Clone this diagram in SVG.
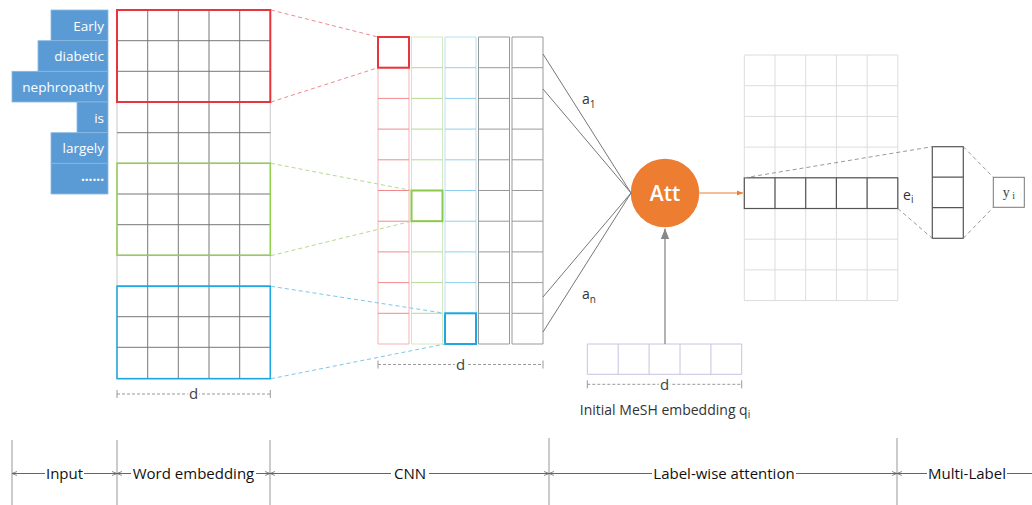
<svg xmlns="http://www.w3.org/2000/svg" width="1032" height="505" viewBox="0 0 1032 505">
<defs>
<style>
text{font-family:"Open Sans","Noto Sans","Liberation Sans",sans-serif;}
.w{fill:#fff;font-size:13.5px;text-anchor:end;}
.wb{fill:#5b9bd5;stroke:#8cb8e2;stroke-width:0.8;}
.g{fill:none;stroke:#777;stroke-width:1;}
.gl{fill:none;stroke:#dcdcdc;stroke-width:1;}
.lbl{font-size:14px;fill:#333;}
.ax{font-size:15px;fill:#111;text-anchor:middle;}
.axl{fill:none;stroke:#666;stroke-width:1;}
.dim{stroke:#999;stroke-width:1;stroke-dasharray:3 2;fill:none;}
.dt{font-size:15px;fill:#444;text-anchor:middle;stroke:#fff;stroke-width:4;paint-order:stroke;}
.tick{stroke:#999;stroke-width:1;}
.dash{fill:none;stroke-width:1;stroke-dasharray:4 3;}
</style>
<marker id="ah" viewBox="0 0 10 10" refX="10" refY="5" markerWidth="7" markerHeight="7" orient="auto-start-reverse">
<path d="M0,1 L10,5 L0,9 z" fill="#888"/>
</marker>
<marker id="aho" viewBox="0 0 10 10" refX="10" refY="5" markerWidth="6" markerHeight="6" orient="auto-start-reverse">
<path d="M0,1 L10,5 L0,9 z" fill="#ed7d31"/>
</marker>
<marker id="axm" viewBox="0 0 10 10" refX="10" refY="5" markerWidth="5" markerHeight="5" orient="auto-start-reverse">
<path d="M0,1 L10,5 L0,9" fill="none" stroke="#666" stroke-width="1.5"/>
</marker>
</defs>

<g id="input">
<rect class="wb" x="51" y="10" width="57" height="30.7"/>
<rect class="wb" x="38" y="40.7" width="70" height="30.7"/>
<rect class="wb" x="12" y="71.3" width="96" height="30.7"/>
<rect class="wb" x="77" y="102" width="31" height="30.7"/>
<rect class="wb" x="51" y="132.7" width="57" height="30.7"/>
<rect class="wb" x="51" y="163.3" width="57" height="30.7"/>
<text class="w" x="104" y="30.5" font-size="14">Early</text>
<text class="w" x="104" y="61">diabetic</text>
<text class="w" x="104" y="91.5">nephropathy</text>
<text class="w" x="104" y="122.5" font-size="14">is</text>
<text class="w" x="104" y="153">largely</text>
<text class="w" x="104" y="181" font-size="12" font-weight="bold">......</text>
</g>

<g id="word-embedding">
<path class="g" d="M147.7,10V378.7M178.3,10V378.7M209,10V378.7M239.7,10V378.7"/>
<path fill="none" stroke="#c8c8c8" d="M117,10V378.7M270.3,10V378.7"/>
<path class="g" d="M117,40.7H270.3M117,71.3H270.3M117,102H270.3M117,132.7H270.3M117,163.3H270.3M117,194H270.3M117,224.7H270.3M117,255.3H270.3M117,286H270.3M117,316.7H270.3M117,347.3H270.3M117,10H270.3M117,378.7H270.3"/>
<rect x="117" y="10" width="153.3" height="92" fill="none" stroke="#e8343c" stroke-width="2"/>
<rect x="117" y="163.3" width="153.3" height="92" fill="none" stroke="#92d050" stroke-width="1.5"/>
<rect x="117" y="286.3" width="153.3" height="92.3" fill="none" stroke="#1ea7e1" stroke-width="1.5"/>
<line class="dim" x1="117" y1="394" x2="270.3" y2="394"/>
<path class="tick" d="M117,390V398M270.3,390V398"/>
<text class="dt" x="193.7" y="399">d</text>
</g>

<g id="cnn">
<path fill="none" stroke="#f6b3b5" d="M378,37h31v307h-31z"/>
<path fill="none" stroke="#f08a8e" d="M378,67.7h31M378,98.4h31M378,129.1h31M378,159.8h31M378,190.5h31M378,221.2h31M378,251.9h31M378,282.6h31M378,313.3h31"/>
<path fill="none" stroke="#d3e8bf" d="M411.5,37h31v307h-31z"/>
<path fill="none" stroke="#b5d98f" d="M411.5,67.7h31M411.5,98.4h31M411.5,129.1h31M411.5,159.8h31M411.5,190.5h31M411.5,221.2h31M411.5,251.9h31M411.5,282.6h31M411.5,313.3h31"/>
<path fill="none" stroke="#b7e0f3" d="M445,37h31v307h-31z"/>
<path fill="none" stroke="#8fd0ee" d="M445,67.7h31M445,98.4h31M445,129.1h31M445,159.8h31M445,190.5h31M445,221.2h31M445,251.9h31M445,282.6h31M445,313.3h31"/>
<path fill="none" stroke="#999" d="M478.5,37h31v307h-31zM478.5,67.7h31M478.5,98.4h31M478.5,129.1h31M478.5,159.8h31M478.5,190.5h31M478.5,221.2h31M478.5,251.9h31M478.5,282.6h31M478.5,313.3h31"/>
<path fill="none" stroke="#999" d="M512,37h31v307h-31zM512,67.7h31M512,98.4h31M512,129.1h31M512,159.8h31M512,190.5h31M512,221.2h31M512,251.9h31M512,282.6h31M512,313.3h31"/>
<rect x="378" y="37" width="31" height="30.7" fill="none" stroke="#e8343c" stroke-width="2"/>
<rect x="411.5" y="190.5" width="31" height="30.7" fill="none" stroke="#8cc84b" stroke-width="2"/>
<rect x="445" y="313.3" width="31" height="30.7" fill="none" stroke="#1ea7e1" stroke-width="2"/>
<line class="dim" x1="378" y1="364.5" x2="543" y2="364.5"/>
<path class="tick" d="M378,360.5V368.5M543,360.5V368.5"/>
<text class="dt" x="460.5" y="370">d</text>
</g>

<g id="att">
<circle cx="665" cy="193" r="34.3" fill="#ed7d31"/>
<text x="665" y="200.5" fill="#fff" font-size="21" font-weight="600" text-anchor="middle">Att</text>
</g>

<g id="label-matrix">
<path class="gl" d="M744.3,55V300.7M775,55V300.7M805.7,55V300.7M836.4,55V300.7M867.1,55V300.7M897.8,55V300.7"/>
<path class="gl" d="M744.3,55H897.8M744.3,85.7H897.8M744.3,116.4H897.8M744.3,147.1H897.8M744.3,177.8H897.8M744.3,208.5H897.8M744.3,239.2H897.8M744.3,269.9H897.8M744.3,300.6H897.8"/>
<rect x="744.3" y="177.8" width="153.5" height="30.7" fill="none" stroke="#555" stroke-width="1.2"/>
<path fill="none" stroke="#555" stroke-width="1.2" d="M775,177.8V208.5M805.7,177.8V208.5M836.4,177.8V208.5M867.1,177.8V208.5"/>
<text class="lbl" x="903" y="200" fill="#444">e<tspan font-size="10" dy="3">i</tspan></text>
</g>

<g id="multi-label">
<rect x="932.3" y="146.7" width="31" height="91.6" fill="none" stroke="#555" stroke-width="1.2"/>
<path fill="none" stroke="#555" stroke-width="1.2" d="M932.3,177.2h31M932.3,207.7h31"/>
</g>

<g id="y-out">
<rect x="993.3" y="177.3" width="31" height="30" fill="none" stroke="#777" stroke-width="1"/>
<text x="1008.8" y="197" font-size="14" fill="#444" text-anchor="middle" style="font-family:'Liberation Serif',serif">y<tspan font-size="10" dy="2"> i</tspan></text>
</g>

<g id="mesh">
<path fill="none" stroke="#c9c2e0" d="M587.3,344H741.7V374.3H587.3ZM618.2,344V374.3M649.1,344V374.3M680,344V374.3M710.9,344V374.3"/>
<line class="dim" x1="587.3" y1="384.3" x2="741.7" y2="384.3"/>
<path class="tick" d="M587.3,380.3V388.3M741.7,380.3V388.3"/>
<text class="dt" x="664.5" y="390">d</text>
<text class="lbl" x="665" y="415" text-anchor="middle">Initial MeSH embedding q<tspan font-size="10" dy="3">i</tspan></text>
</g>

<g id="connectors">
<path class="dash" stroke="#f08a8e" d="M271,10L378,37M271,102L378,67.7"/>
<path class="dash" stroke="#b5d98f" d="M271,163.3L411.5,190.5M271,255.6L411.5,221.2"/>
<path class="dash" stroke="#7cc6ea" d="M271,286.3L445,313.3M271,378.7L445,344"/>
<path fill="none" stroke="#777" stroke-width="1" d="M543,54L631,193M543,89L631,193M543,297L631,193M543,332L631,193"/>
<text class="lbl" x="582" y="104" font-size="15">a<tspan font-size="10" dy="4">1</tspan></text>
<text class="lbl" x="582" y="299" font-size="15">a<tspan font-size="10" dy="4">n</tspan></text>
<line x1="699.5" y1="193" x2="743" y2="193" stroke="#ed7d31" stroke-width="1" marker-end="url(#aho)"/>
<line x1="665" y1="344" x2="665" y2="228.5" stroke="#999" stroke-width="1.5" marker-end="url(#ah)"/>
<path class="dash" stroke="#999" d="M744.3,177.8L932.3,146.7M897.8,208.5L932.3,238.3M963.3,146.7L993.3,177.3M963.3,238.3L993.3,207.3"/>
</g>

<g id="axis">
<path fill="none" stroke="#aaa" stroke-width="1.2" d="M12,440V505M117,440V505M270,440V505M549,438V505M897,438V505"/>
<path class="axl" marker-start="url(#axm)" d="M12,473.5H45"/>
<path class="axl" marker-end="url(#axm)" d="M84,473.5H117"/>
<path class="axl" marker-start="url(#axm)" d="M117,473.5H131"/>
<path class="axl" marker-end="url(#axm)" d="M256,473.5H270"/>
<path class="axl" marker-start="url(#axm)" d="M270,473.5H391"/>
<path class="axl" marker-end="url(#axm)" d="M429,473.5H549"/>
<path class="axl" marker-start="url(#axm)" d="M549,473.5H652"/>
<path class="axl" marker-end="url(#axm)" d="M796,473.5H897"/>
<path class="axl" marker-start="url(#axm)" d="M897,473.5H927"/>
<path class="axl" d="M1007,473.5H1032"/>
<text class="ax" x="64.5" y="479">Input</text>
<text class="ax" x="193.5" y="479">Word embedding</text>
<text class="ax" x="410" y="479">CNN</text>
<text class="ax" x="724" y="479">Label-wise attention</text>
<text class="ax" x="967" y="479">Multi-Label</text>
</g>
</svg>
